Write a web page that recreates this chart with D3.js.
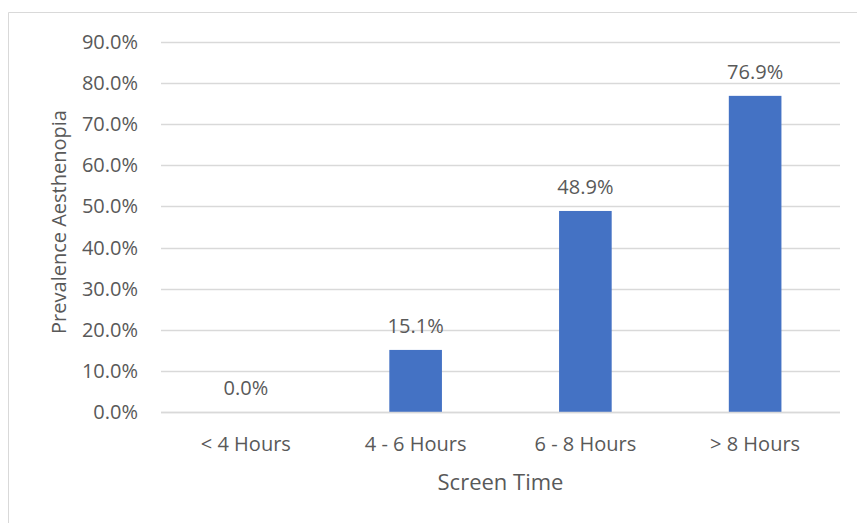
<!DOCTYPE html>
<html>
<head>
<meta charset="utf-8">
<script src="https://cdn.jsdelivr.net/npm/d3@7"></script>
<style>
  body { margin: 0; background: #fff; }
  text { font-family: "Open Sans", "Noto Sans", sans-serif; fill: #595959; }
</style>
</head>
<body>
<div id="vis"></div>
<script>
const categories = ["< 4 Hours", "4 - 6 Hours", "6 - 8 Hours", "> 8 Hours"];
const prevalence = [0.0, 15.1, 48.9, 76.9];
const yTicks = [0, 10, 20, 30, 40, 50, 60, 70, 80, 90];

const width = 857;
const height = 523;
const margin = { top: 42, right: 17, bottom: 111, left: 161 };

const svg = d3.select('#vis')
  .append('svg')
  .attr('width', width)
  .attr('height', height);

// chart frame (only top and left edges show in the crop)
svg.append('path')
  .attr('d', `M8.5,${height} V12.5 H${width}`)
  .attr('fill', 'none')
  .attr('stroke', '#d9d9d9')
  .attr('stroke-width', 1);

const x = d3.scaleBand()
  .domain(categories)
  .range([margin.left, width - margin.right])
  .paddingInner(0.69)
  .paddingOuter(0.345);

const y = d3.scaleLinear()
  .domain([0, 90])
  .range([height - margin.bottom, margin.top]);

// gridlines
svg.append('g')
  .selectAll('line')
  .data(yTicks)
  .join('line')
  .attr('x1', margin.left)
  .attr('x2', width - margin.right)
  .attr('y1', d => Math.round(y(d)) + 0.5)
  .attr('y2', d => Math.round(y(d)) + 0.5)
  .attr('stroke', '#d9d9d9')
  .attr('stroke-width', 1.3);

// y tick labels
svg.append('g')
  .selectAll('text')
  .data(yTicks)
  .join('text')
  .attr('x', 138)
  .attr('y', d => y(d))
  .attr('dy', '0.35em')
  .attr('text-anchor', 'end')
  .style('font-size', '20px')
  .text(d => d.toFixed(1) + '%');

// bars
svg.append('g')
  .selectAll('rect')
  .data(prevalence)
  .join('rect')
  .attr('x', (d, i) => x(categories[i]))
  .attr('y', d => y(d))
  .attr('width', x.bandwidth())
  .attr('height', d => y(0) - y(d))
  .attr('fill', '#4472c4');

// redraw baseline over bars
svg.append('line')
  .attr('x1', margin.left)
  .attr('x2', width - margin.right)
  .attr('y1', Math.round(y(0)) + 0.5)
  .attr('y2', Math.round(y(0)) + 0.5)
  .attr('stroke', '#d9d9d9')
  .attr('stroke-width', 1.3);

// data labels
svg.append('g')
  .selectAll('text')
  .data(prevalence)
  .join('text')
  .attr('x', (d, i) => x(categories[i]) + x.bandwidth() / 2)
  .attr('y', d => y(d) - 17)
  .attr('text-anchor', 'middle')
  .style('font-size', '20px')
  .text(d => d.toFixed(1) + '%');

// category labels
svg.append('g')
  .selectAll('text')
  .data(categories)
  .join('text')
  .attr('x', d => x(d) + x.bandwidth() / 2)
  .attr('y', 451)
  .attr('text-anchor', 'middle')
  .style('font-size', '20px')
  .text(d => d);

// axis titles
svg.append('text')
  .attr('x', (margin.left + width - margin.right) / 2)
  .attr('y', 490)
  .attr('text-anchor', 'middle')
  .style('font-size', '22px')
  .text('Screen Time');

svg.append('text')
  .attr('transform', `translate(66, 222) rotate(-90)`)
  .attr('text-anchor', 'middle')
  .style('font-size', '20px')
  .text('Prevalence Aesthenopia');
</script>
</body>
</html>
